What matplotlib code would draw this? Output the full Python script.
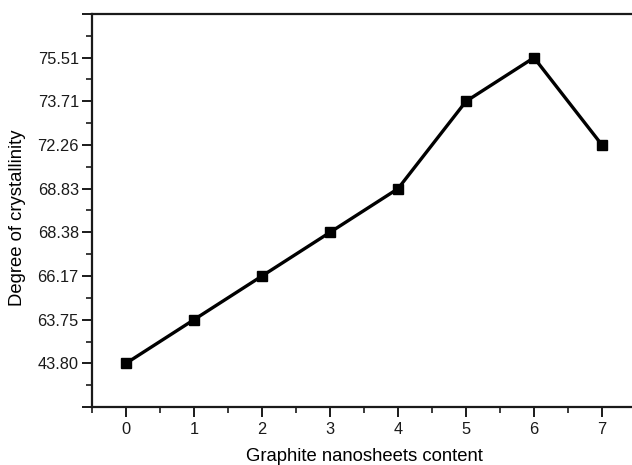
import matplotlib
matplotlib.use("Agg")
import matplotlib.pyplot as plt
import numpy as np

plt.rcParams['font.family'] = ['Liberation Sans', 'DejaVu Sans']

content = [0, 1, 2, 3, 4, 5, 6, 7]
crystallinity = [43.80, 63.75, 66.17, 68.38, 68.83, 73.71, 75.51, 72.26]
y_tick_labels = ["43.80", "63.75", "66.17", "68.38", "68.83", "72.26", "73.71", "75.51"]

y_tick_values = [float(s) for s in y_tick_labels]
y_pos = [y_tick_values.index(v) for v in crystallinity]

fig = plt.figure(figsize=(6.32, 4.65), dpi=100)
ax = fig.add_axes([92/632, 1 - 407/465, (636 - 92)/632, (407 - 14)/465])

ax.plot(content, y_pos, color='black', lw=2.4, marker='s', markersize=7,
        markerfacecolor='black', markeredgecolor='black', clip_on=False)

ax.set_xlim(-0.5, 7.5)
ax.set_ylim(-1, 8)

ax.set_xticks(range(0, 8))
ax.set_xticks(np.arange(-0.5, 8, 1), minor=True)
ax.set_yticks(range(-1, 9))
ax.set_yticklabels([""] + y_tick_labels + [""])
ax.set_yticks(np.arange(-0.5, 8, 1), minor=True)

for s in ['left', 'bottom', 'top']:
    ax.spines[s].set_linewidth(1.6)
    ax.spines[s].set_color('#1a1a1a')
ax.spines['right'].set_visible(False)

ax.tick_params(axis='both', which='major', direction='out', length=7, width=1.4,
               labelsize=11.8, colors='#1a1a1a')
ax.tick_params(axis='both', which='minor', direction='out', length=4, width=1.2,
               colors='#1a1a1a')
ax.tick_params(axis='x', pad=4)
ax.tick_params(axis='y', pad=2.5)

ax.set_xlabel("Graphite nanosheets content", fontsize=13.3, va='baseline')
ax.xaxis.set_label_coords(0.5, -(461 - 407) / 393)
ax.set_ylabel("Degree of crystallinity", fontsize=13.3, va='center')
ax.yaxis.set_label_coords((18 - 92) / 544, 1 - (218 - 14) / 393)

fig.savefig("out.png", dpi=100)
